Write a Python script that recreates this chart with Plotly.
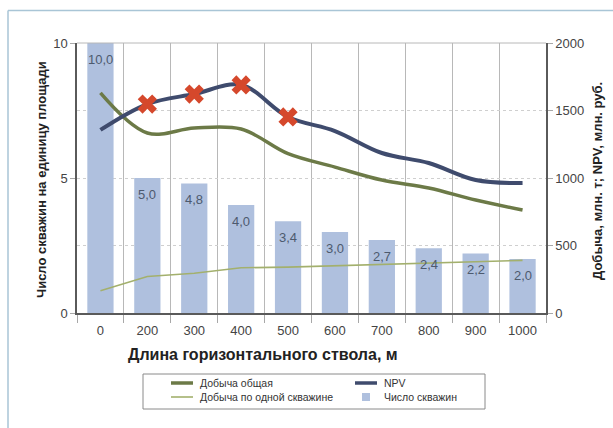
import plotly.graph_objects as go

# ---------------- data ----------------
categories = ["0", "200", "300", "400", "500", "600", "700", "800", "900", "1000"]
wells_per_area = [10.0, 5.0, 4.8, 4.0, 3.4, 3.0, 2.7, 2.4, 2.2, 2.0]
npv = [1356, 1548, 1622, 1689, 1452, 1348, 1185, 1111, 985, 963]
prod_total = [1630, 1333, 1370, 1363, 1180, 1081, 985, 926, 837, 763]
prod_per_well = [165, 270, 295, 335, 340, 350, 355, 370, 380, 390]
marked_idx = [1, 2, 3, 4]  # NPV points highlighted with crosses

left_ticks = [0, 5, 10]
right_ticks = [0, 500, 1000, 1500, 2000]

x_title = "Длина горизонтального ствола, м"
y_title = "Число скважин на единицу площади"
y2_title = "Добыча, млн. т; NPV, млн. руб."
legend_names = ["Добыча общая", "Добыча по одной скважине", "NPV", "Число скважин"]

# ---------------- styles ----------------
W, H = 613, 428
L, R, T, B = 77, 67, 43, 115
PW, PH = W - L - R, H - T - B
FONT = "Liberation Sans, Arial, sans-serif"
BAR_COLOR = "#afc0de"
NPV_COLOR = "#3f4b6d"
TOT_COLOR = "#6c7a47"
PW_COLOR = "#a3b06d"
X_COLOR = "#d5482c"
AX_COLOR = "#5a5a5a"
FRAME_COLOR = "#a9c5d6"


def px(x):
    return (x - L) / PW


def py(y):
    return (T + PH - y) / PH


fig = go.Figure()

fig.add_trace(go.Bar(
    x=categories, y=wells_per_area, width=0.56,
    marker=dict(color=BAR_COLOR, line=dict(width=0)),
    name=legend_names[3], showlegend=False, yaxis="y",
))

fig.add_trace(go.Scatter(
    x=categories, y=prod_per_well, mode="lines",
    line=dict(color=PW_COLOR, width=1.6),
    name=legend_names[1], showlegend=False, yaxis="y2",
))
fig.add_trace(go.Scatter(
    x=categories, y=prod_total, mode="lines",
    line=dict(color=TOT_COLOR, width=3.5, shape="spline", smoothing=1.0),
    name=legend_names[0], showlegend=False, yaxis="y2",
))
fig.add_trace(go.Scatter(
    x=categories, y=npv, mode="lines",
    line=dict(color=NPV_COLOR, width=4, shape="spline", smoothing=1.0),
    name=legend_names[2], showlegend=False, yaxis="y2",
))
fig.add_trace(go.Scatter(
    x=[categories[i] for i in marked_idx], y=[npv[i] for i in marked_idx],
    mode="markers",
    marker=dict(symbol="x", size=17, color=X_COLOR, line=dict(width=0)),
    showlegend=False, yaxis="y2", hoverinfo="skip",
))

annotations = []
# bar value labels (category axis: position by index)
for i, v in enumerate(wells_per_area):
    annotations.append(dict(
        x=i, y=v, xref="x", yref="y", yshift=-16,
        text=f"{v:.1f}".replace(".", ","), showarrow=False,
        font=dict(family=FONT, size=13, color="#4d5a6e"),
    ))

# axis titles
annotations.append(dict(
    x=px(263), y=py(354), xref="paper", yref="paper", text=f"<b>{x_title}</b>",
    showarrow=False, font=dict(family=FONT, size=16, color="#222"),
    xanchor="center", yanchor="middle",
))
annotations.append(dict(
    x=px(41), y=py(180), xref="paper", yref="paper", text=f"<b>{y_title}</b>",
    showarrow=False, textangle=-90, font=dict(family=FONT, size=13, color="#222"),
    xanchor="center", yanchor="middle",
))
annotations.append(dict(
    x=px(597), y=py(181), xref="paper", yref="paper", text=f"<b>{y2_title}</b>",
    showarrow=False, textangle=-90, font=dict(family=FONT, size=13, color="#222"),
    xanchor="center", yanchor="middle",
))

shapes = []
# outer light-blue frame (top and left edges)
shapes.append(dict(type="line", xref="paper", yref="paper",
                   x0=px(8), x1=px(W + 5), y0=py(10.5), y1=py(10.5),
                   line=dict(color=FRAME_COLOR, width=1.5)))
shapes.append(dict(type="line", xref="paper", yref="paper",
                   x0=px(8), x1=px(8), y0=py(10.5), y1=py(H + 5),
                   line=dict(color=FRAME_COLOR, width=1.5)))
# top border of plot area
shapes.append(dict(type="line", xref="paper", yref="paper",
                   x0=0, x1=1, y0=1, y1=1, line=dict(color="#b8b8b8", width=1)))

# manual legend
shapes.append(dict(type="rect", xref="paper", yref="paper",
                   x0=px(143), x1=px(485), y0=py(409), y1=py(374),
                   line=dict(color="#8a8a8a", width=1), fillcolor="white"))
leg_rows = [383, 397]
leg_cols = [(171, 193, 198), (355, 377, 382)]
leg_items = [
    (legend_names[0], "line", TOT_COLOR, 3.5, 0, 0),
    (legend_names[1], "line", PW_COLOR, 1.6, 1, 0),
    (legend_names[2], "line", NPV_COLOR, 3.5, 0, 1),
    (legend_names[3], "square", BAR_COLOR, 0, 1, 1),
]
for name, kind, color, lw, r, c in leg_items:
    y = leg_rows[r]
    xa, xb, xt = leg_cols[c]
    if kind == "line":
        shapes.append(dict(type="line", xref="paper", yref="paper",
                           x0=px(xa), x1=px(xb), y0=py(y), y1=py(y),
                           line=dict(color=color, width=lw)))
    else:
        mid = (xa + xb) / 2
        shapes.append(dict(type="rect", xref="paper", yref="paper",
                           x0=px(mid - 4), x1=px(mid + 4), y0=py(y + 4), y1=py(y - 4),
                           line=dict(width=0), fillcolor=color))
    annotations.append(dict(
        x=px(xt), y=py(y), xref="paper", yref="paper", text=name, showarrow=False,
        xanchor="left", yanchor="middle",
        font=dict(family=FONT, size=10.5, color="#333"),
    ))

fig.update_layout(
    width=W, height=H,
    margin=dict(l=L, r=R, t=T, b=B),
    paper_bgcolor="white", plot_bgcolor="white",
    font=dict(family=FONT, size=13, color="#444"),
    showlegend=False,
    xaxis=dict(
        type="category", range=[-0.5, len(categories) - 0.5],
        showline=True, linecolor=AX_COLOR, linewidth=1.5,
        tickson="boundaries", ticks="outside", ticklen=8, tickcolor="#a8a8a8",
        ticklabelstandoff=5,
        showgrid=True, gridcolor="#b8b8b8", gridwidth=1,
        tickfont=dict(family=FONT, size=13, color="#444"),
        zeroline=False, fixedrange=True,
    ),
    yaxis=dict(
        range=[0, 10], tickvals=left_ticks, ticktext=[str(t) for t in left_ticks],
        showline=True, linecolor=AX_COLOR, linewidth=1.5,
        ticks="outside", ticklen=5, tickcolor="#a8a8a8",
        showgrid=False, zeroline=False,
        tickfont=dict(family=FONT, size=13, color="#444"),
    ),
    yaxis2=dict(
        range=[0, 2000], tickvals=right_ticks, overlaying="y", side="right",
        showline=True, linecolor=AX_COLOR, linewidth=1.5,
        ticks="outside", ticklen=5, tickcolor="#a8a8a8",
        showgrid=True, gridcolor="#cfcfcf", griddash="dot", gridwidth=1,
        zeroline=False,
        tickfont=dict(family=FONT, size=13, color="#444"),
    ),
    annotations=annotations,
    shapes=shapes,
)

fig.write_html("out.html")
